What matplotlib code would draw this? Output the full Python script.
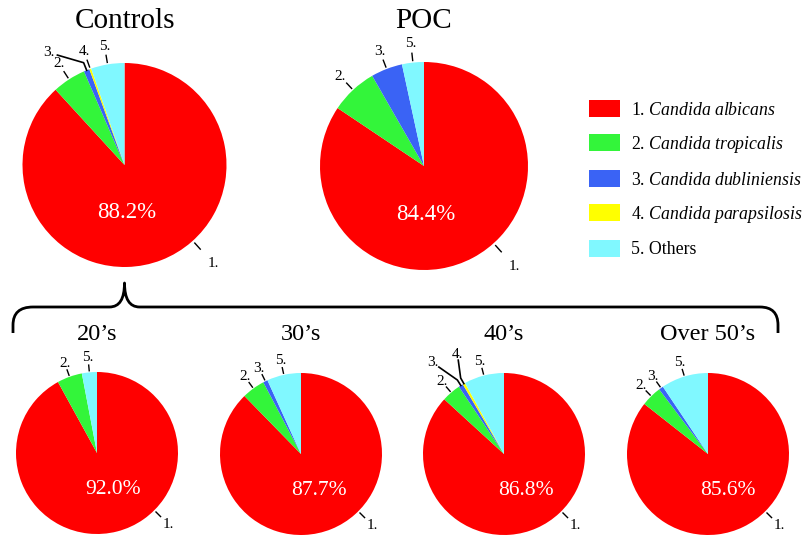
import numpy as np
import matplotlib.pyplot as plt
from matplotlib.path import Path
from matplotlib.patches import PathPatch

plt.rcParams['font.family'] = ['Liberation Serif', 'DejaVu Serif']
plt.rcParams['mathtext.fontset'] = 'custom'
plt.rcParams['mathtext.rm'] = 'Liberation Serif'
plt.rcParams['mathtext.it'] = 'Liberation Serif:italic'

# species order: 1..5
species = ['Candida albicans', 'Candida tropicalis', 'Candida dubliniensis',
           'Candida parapsilosis', 'Others']
colors = ['#ff0000', '#33f53a', '#3a63f5', '#ffff00', '#80f8ff']

groups = ['Controls', 'POC', '20’s', '30’s', '40’s', 'Over 50’s']
controls = [88.2, 5.3, 0.9, 0.3, 5.3]
poc = [84.4, 7.3, 4.9, 0.0, 3.4]
age_20s = [92.0, 5.0, 0.0, 0.0, 3.0]
age_30s = [87.7, 4.6, 0.9, 0.0, 6.8]
age_40s = [86.8, 3.8, 0.9, 0.5, 8.0]
age_50s = [85.6, 4.1, 0.9, 0.0, 9.4]
values = [controls, poc, age_20s, age_30s, age_40s, age_50s]

W, H = 806, 535
# layout in pixels (x, y from top)
centers = [(124.5, 165), (424, 166), (97, 453), (301, 454), (504, 454), (708, 454)]
radii = [102, 104, 81, 81, 81, 81]
title_y = [21, 21, 335, 335, 335, 335]
title_size = [21, 21, 17.5, 17.5, 17.5, 17.5]
pct_off = [(0.02, -0.47), (0.02, -0.47), (0.2, -0.45), (0.22, -0.45), (0.27, -0.45), (0.24, -0.45)]
pct_size = [16.5, 16.5, 15.5, 15.5, 15.5, 15.5]
one_pos = [(-48, 1.3), (-48, 1.3), (-45, 1.25), (-45, 1.25), (-45, 1.25), (-45, 1.25)]

# labels moved away from the crowded spots: (group, slice index) -> (angle, radius)
moved = {(0, 2): (124, 1.33), (4, 2): (128, 1.43), (4, 3): (115, 1.36)}

fig = plt.figure(figsize=(W / 100, H / 100), dpi=100)
ax = fig.add_axes([0, 0, 1, 1])

legend_wedges = None
for g, vals in enumerate(values):
    cx, cy = centers[g][0], H - centers[g][1]
    r = radii[g]
    wedges, _ = ax.pie(vals, colors=colors, startangle=90, counterclock=False,
                       center=(cx, cy), radius=r, wedgeprops=dict(linewidth=0))
    if g == 0:
        legend_wedges = wedges

    def pt(ang, rad):
        a = np.deg2rad(ang)
        return cx + rad * r * np.cos(a), cy + rad * r * np.sin(a)

    for i, (v, w) in enumerate(zip(vals, wedges)):
        if v <= 0:
            continue
        mid = (w.theta1 + w.theta2) / 2
        if i == 0:
            ang, rad = one_pos[g]
            x0, y0 = pt(ang, 1.03)
            x1, y1 = pt(ang, 1.11)
            ax.plot([x0, x1], [y0, y1], color='black', lw=1)
            tx, ty = pt(ang, rad)
        elif (g, i) in moved:
            ang, rad = moved[(g, i)]
            tx, ty = pt(ang, rad)
            ex, ey = pt(mid, 1.0)
            kx, ky = pt(mid, 1.08)
            lx, ly = tx + (kx - tx) * 0.25, ty + (ky - ty) * 0.25
            ax.plot([ex, kx, lx], [ey, ky, ly], color='black', lw=1.2)
        else:
            x0, y0 = pt(mid, 1.02)
            x1, y1 = pt(mid, 1.09)
            ax.plot([x0, x1], [y0, y1], color='black', lw=1)
            tx, ty = pt(mid, 1.18)
        ax.text(tx, ty, f'{i + 1}.', ha='center', va='center', fontsize=11)

    dx, dy = pct_off[g]
    ax.text(cx + dx * r, cy + dy * r, f'{vals[0]:.1f}%', color='white',
            ha='center', va='center', fontsize=pct_size[g])
    ax.text(cx, H - title_y[g], groups[g], ha='center', va='center',
            fontsize=title_size[g])

# brace linking Controls to the age groups
by, top = H - 307, H - 283
bx = centers[0][0]
verts = [(13, H - 333), (13, H - 325), (13, by), (33, by), (bx - 15, by),
         (bx, by), (bx, top), (bx, by), (bx + 15, by), (760, by),
         (778, by), (778, H - 325), (778, H - 333)]
codes = [Path.MOVETO, Path.LINETO, Path.CURVE3, Path.CURVE3, Path.LINETO,
         Path.CURVE3, Path.CURVE3, Path.CURVE3, Path.CURVE3, Path.LINETO,
         Path.CURVE3, Path.CURVE3, Path.LINETO]
ax.add_patch(PathPatch(Path(verts, codes), fill=False, lw=2, color='black',
                       capstyle='butt', joinstyle='round'))

labels = []
for i, s in enumerate(species):
    if s.startswith('Candida'):
        labels.append(f'{i + 1}. $\\mathit{{{s.replace(" ", "\\ ")}}}$')
    else:
        labels.append(f'{i + 1}. {s}')
ax.legend(legend_wedges, labels, loc='upper left',
          bbox_to_anchor=(589 / W, 1 - 100 / H), bbox_transform=fig.transFigure,
          frameon=False, fontsize=12.8, borderpad=0, borderaxespad=0,
          handlelength=1.75, handleheight=1.12, handletextpad=0.6,
          labelspacing=0.85)

ax.set_xlim(0, W)
ax.set_ylim(0, H)
ax.set_aspect('equal')
ax.axis('off')
fig.savefig('out.png', dpi=100)
